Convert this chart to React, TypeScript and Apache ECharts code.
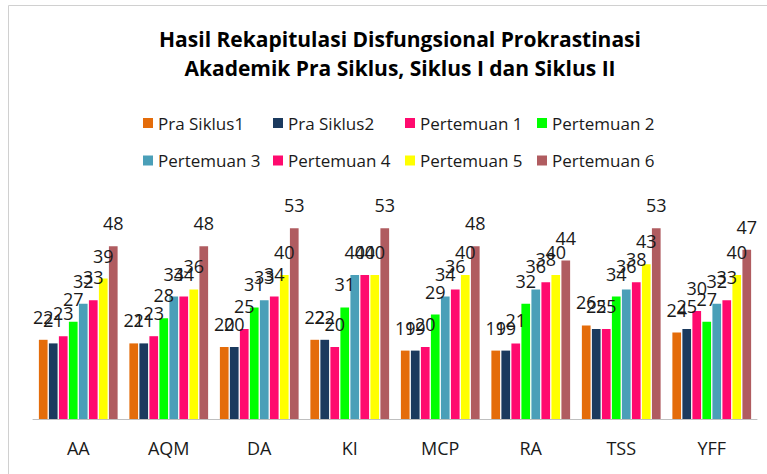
import React, { useEffect, useRef } from "react";
import * as echarts from "echarts";

const categories = ["AA", "AQM", "DA", "KI", "MCP", "RA", "TSS", "YFF"];
const seriesNames = [
  "Pra Siklus1",
  "Pra Siklus2",
  "Pertemuan 1",
  "Pertemuan 2",
  "Pertemuan 3",
  "Pertemuan 4",
  "Pertemuan 5",
  "Pertemuan 6",
];
const praSiklus1 = [22, 21, 20, 22, 19, 19, 26, 24];
const praSiklus2 = [21, 21, 20, 22, 19, 19, 25, 25];
const pertemuan1 = [23, 23, 25, 20, 20, 21, 25, 30];
const pertemuan2 = [27, 28, 31, 31, 29, 32, 34, 27];
const pertemuan3 = [32, 34, 33, 40, 34, 36, 36, 32];
const pertemuan4 = [33, 34, 34, 40, 36, 38, 38, 33];
const pertemuan5 = [39, 36, 40, 40, 40, 40, 43, 40];
const pertemuan6 = [48, 48, 53, 53, 48, 44, 53, 47];
const seriesValues = [
  praSiklus1,
  praSiklus2,
  pertemuan1,
  pertemuan2,
  pertemuan3,
  pertemuan4,
  pertemuan5,
  pertemuan6,
];
const colors = [
  "#E46C0A",
  "#1B3A5E",
  "#FF0A6E",
  "#00FF00",
  "#4A9FB8",
  "#FF0A6E",
  "#FFFF00",
  "#B05C60",
];

const FONT = "'Open Sans', Lato, sans-serif";

export default function App() {
  const ref = useRef<HTMLDivElement>(null);
  useEffect(() => {
    if (!ref.current) return;
    const chart = echarts.init(ref.current, null, { renderer: "svg" });
    const legendX = [138, 268, 400, 532];
    const legendY = [109.5, 147];
    const legends = seriesNames.map((n, i) => ({
      data: [n],
      left: legendX[i % 4],
      top: legendY[Math.floor(i / 4)],
      itemWidth: 10,
      itemHeight: 10,
      icon: "rect",
      textStyle: { fontFamily: FONT, fontSize: 17, color: "#1a1a1a" },
    }));
    chart.setOption({
      animation: false,
      color: colors,
      title: {
        text: "Hasil Rekapitulasi Disfungsional Prokrastinasi\nAkademik Pra Siklus, Siklus I dan Siklus II",
        left: 395,
        textAlign: "center",
        top: 19,
        textStyle: {
          fontFamily: FONT,
          fontSize: 21,
          fontWeight: "bold",
          color: "#000",
          lineHeight: 29.5,
        },
      },
      graphic: [
        {
          type: "rect",
          shape: { x: 8.5, y: 5.5, width: 780, height: 500 },
          style: { fill: "none", stroke: "#d0d0d0", lineWidth: 1 },
          silent: true,
        },
      ],
      legend: legends,
      grid: { left: 33, right: 10, top: 203, bottom: 55 },
      xAxis: {
        type: "category",
        data: categories,
        axisLine: { lineStyle: { color: "#bfbfbf", width: 1 } },
        axisTick: { show: false },
        axisLabel: { fontFamily: FONT, fontSize: 18, color: "#1a1a1a", margin: 20 },
      },
      yAxis: {
        type: "value",
        min: 0,
        max: 60,
        show: false,
        splitLine: { show: false },
      },
      series: seriesNames.map((n, i) => ({
        name: n,
        type: "bar",
        data: seriesValues[i],
        barGap: "15%",
        barCategoryGap: "13%",
        itemStyle: { color: colors[i] },
        label: {
          show: true,
          position: "top",
          distance: 14,
          fontFamily: FONT,
          fontSize: 18,
          color: "#1a1a1a",
        },
      })),
    });
    return () => chart.dispose();
  }, []);
  return (
    <div
      ref={ref}
      style={{ position: "absolute", left: 0, top: 0, width: 767, height: 474, background: "#fff" }}
    />
  );
}
